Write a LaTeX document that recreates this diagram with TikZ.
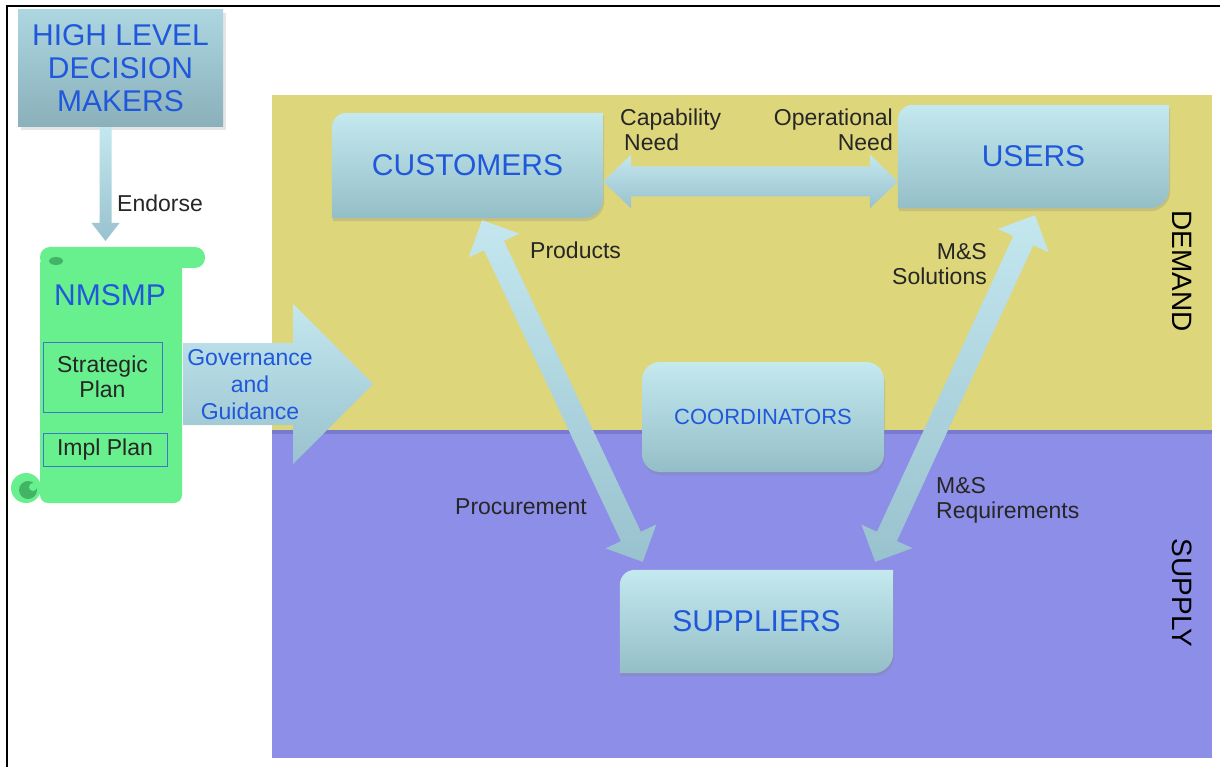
\documentclass[tikz,border=0pt]{standalone}
\usepackage{fontspec}
\setmainfont{Liberation Sans}
\usetikzlibrary{arrows.meta,positioning,calc,shadows}
\definecolor{demandyellow}{RGB}{222,214,122}
\definecolor{supplyblue}{RGB}{141,142,232}
\definecolor{bandblue}{RGB}{120,122,206}
\definecolor{titleblue}{RGB}{32,88,220}
\definecolor{boxtop}{RGB}{196,233,239}
\definecolor{boxbottom}{RGB}{148,190,199}
\definecolor{arrowtop}{RGB}{196,231,239}
\definecolor{arrowbottom}{RGB}{152,194,206}
\definecolor{scrollgreen}{RGB}{104,240,142}
\definecolor{curlgreen}{RGB}{66,180,102}
\definecolor{planblue}{RGB}{64,120,200}
\pgfdeclarelayer{zone}\pgfdeclarelayer{shape}\pgfsetlayers{zone,shape,main}
\newcommand{\bigfont}{\fontsize{30}{33}\selectfont}
\newcommand{\labelfont}{\fontsize{23}{25}\selectfont}
\newcommand{\diagbox}[3]{\begin{pgfonlayer}{shape}
\shade[boxfill] (#1.south west) -- ([yshift=-#2]#1.north west) arc[start angle=180,end angle=90,radius=#2] -- (#1.north east) -- ([yshift=#3]#1.south east) arc[start angle=0,end angle=-90,radius=#3] -- cycle;
\end{pgfonlayer}}
\newcommand{\blockarrow}[5]{\coordinate (ba) at ($(#2)!#5!(#1)$);
\shade[arrowfill] ($(#1)!#3!90:(#2)$) -- ($(ba)!#3!-90:(#1)$) -- ($(ba)!#4!-90:(#1)$) -- (#2) -- ($(ba)!#4!90:(#1)$) -- ($(ba)!#3!90:(#1)$) -- ($(#1)!#3!-90:(#2)$) -- cycle;}
\newcommand{\twinarrow}[5]{\coordinate (bb) at ($(#2)!#5!(#1)$); \coordinate (bc) at ($(#1)!#5!(#2)$);
\shade[arrowfill] (#1) -- ($(bc)!#4!90:(#2)$) -- ($(bc)!#3!90:(#2)$) -- ($(bb)!#3!-90:(#1)$) -- ($(bb)!#4!-90:(#1)$) -- (#2) -- ($(bb)!#4!90:(#1)$) -- ($(bb)!#3!90:(#1)$) -- ($(bc)!#3!-90:(#2)$) -- ($(bc)!#4!-90:(#2)$) -- cycle;}
\begin{document}
\begin{tikzpicture}[x=1pt, y=-1pt, every node/.style={align=center, inner sep=0pt},
 actor/.style={font=\bigfont, text=titleblue, minimum height=103pt},
 tag/.style={font=\labelfont, text=black!85},
 boxfill/.style={top color=boxtop, bottom color=boxbottom, drop shadow={opacity=0.25, shadow xshift=1pt, shadow yshift=-3pt}},
 arrowfill/.style={top color=arrowtop, bottom color=arrowbottom},
 plan/.style={draw=planblue, line width=1pt, font=\labelfont, text=black!85}]
\useasboundingbox (0,0) rectangle (1220,767);
\begin{pgfonlayer}{zone}
\fill[white] (0,0) rectangle (1220,767);
\fill[demandyellow] (272,95) rectangle (1212,431);
\fill[supplyblue] (272,431) rectangle (1212,758);
\draw[bandblue, line width=4pt] (272,432) -- (1212,432);
\end{pgfonlayer}
\draw[line width=2pt] (7,767) -- (7,6) -- (1220,6);
\node[minimum width=205pt, minimum height=117pt, top color={rgb,255:red,172;green,214;blue,224}, bottom color={rgb,255:red,138;green,176;blue,186}, drop shadow={opacity=0.2, shadow yshift=-3pt}, font=\bigfont, text=titleblue] (hldm) at (120.5,68.5) {HIGH LEVEL\\DECISION\\MAKERS};
\fill[scrollgreen] (40,262) [rounded corners=8pt] -- (40,503) -- (182,503) -- (182,262);
\fill[scrollgreen, rounded corners=10pt] (40,247) rectangle (205,268);
\fill[scrollgreen] (26,488) circle (15pt);
\fill[curlgreen] (28,490) circle (9pt);
\fill[scrollgreen] (33,487) circle (4pt);
\fill[curlgreen] (56,261) ellipse (7pt and 4pt);
\node[font=\bigfont, text=titleblue] (nmsmp) at (110,295) {NMSMP};
\node[plan, minimum width=119pt, minimum height=70pt] (strategic) at (102.5,377) {Strategic\\Plan};
\node[plan, minimum width=124pt, minimum height=33pt] (impl) at (105,450) {Impl Plan};
\coordinate (endtop) at ([xshift=-15pt]hldm.south);
\coordinate (scrolltop) at (105.5,241);
\blockarrow{endtop}{scrolltop}{6pt}{14pt}{18pt}
\node[tag, anchor=west] (endorse) at (117,203) {Endorse};
\coordinate (govstart) at (183,384);
\coordinate (govtip) at (373,384);
\blockarrow{govstart}{govtip}{41pt}{80pt}{80pt}
\node[font=\fontsize{23}{27}\selectfont, text=titleblue] (gov) at (250,385) {Governance\\and\\Guidance};
\node[actor, minimum width=271pt, minimum height=105pt] (cust) at (467.5,165.5) {CUSTOMERS};
\node[actor, minimum width=271pt] (users) at (1033.5,156.5) {USERS};
\node[actor, minimum width=273pt] (supp) at (756.5,621.5) {SUPPLIERS};
\node[actor, font=\fontsize{22}{24}\selectfont, minimum width=242pt, minimum height=110pt, rounded corners=18pt, top color=boxtop, bottom color=boxbottom, drop shadow={opacity=0.25, shadow xshift=1pt, shadow yshift=-3pt}] (coord) at (763,417) {COORDINATORS};
\diagbox{cust}{15pt}{20pt}
\diagbox{users}{15pt}{20pt}
\diagbox{supp}{15pt}{20pt}
\twinarrow{$(cust.east)+(0,16)$}{$(users.west)+(0,25)$}{15pt}{27pt}{28pt}
\twinarrow{$(cust.south)+(14.5,2)$}{$(supp.north west)+(23,-8)$}{11pt}{28pt}{28pt}
\twinarrow{$(users.south)+(1.5,7)$}{$(supp.north east)+(-18,-8)$}{11pt}{28pt}{28pt}
\node[tag, align=left, anchor=west] (capneed) at (620,130) {Capability\\\hspace{4pt}Need};
\node[tag, align=right, anchor=east] (opneed) at (893,130) {Operational\\Need};
\node[tag, anchor=west] (products) at (530,250) {Products};
\node[tag, align=right, anchor=east] (solutions) at (987,264.5) {M\&S\\Solutions};
\node[tag, anchor=west] (procure) at (455,507) {Procurement};
\node[tag, align=left, anchor=west] (reqs) at (936,500) {M\&S\\Requirements};
\node[font=\fontsize{28}{30}\selectfont, rotate=-90] (demand) at (1182,271) {DEMAND};
\node[font=\fontsize{28}{30}\selectfont, rotate=-90] (supply) at (1182,593) {SUPPLY};
\end{tikzpicture}
\end{document}
